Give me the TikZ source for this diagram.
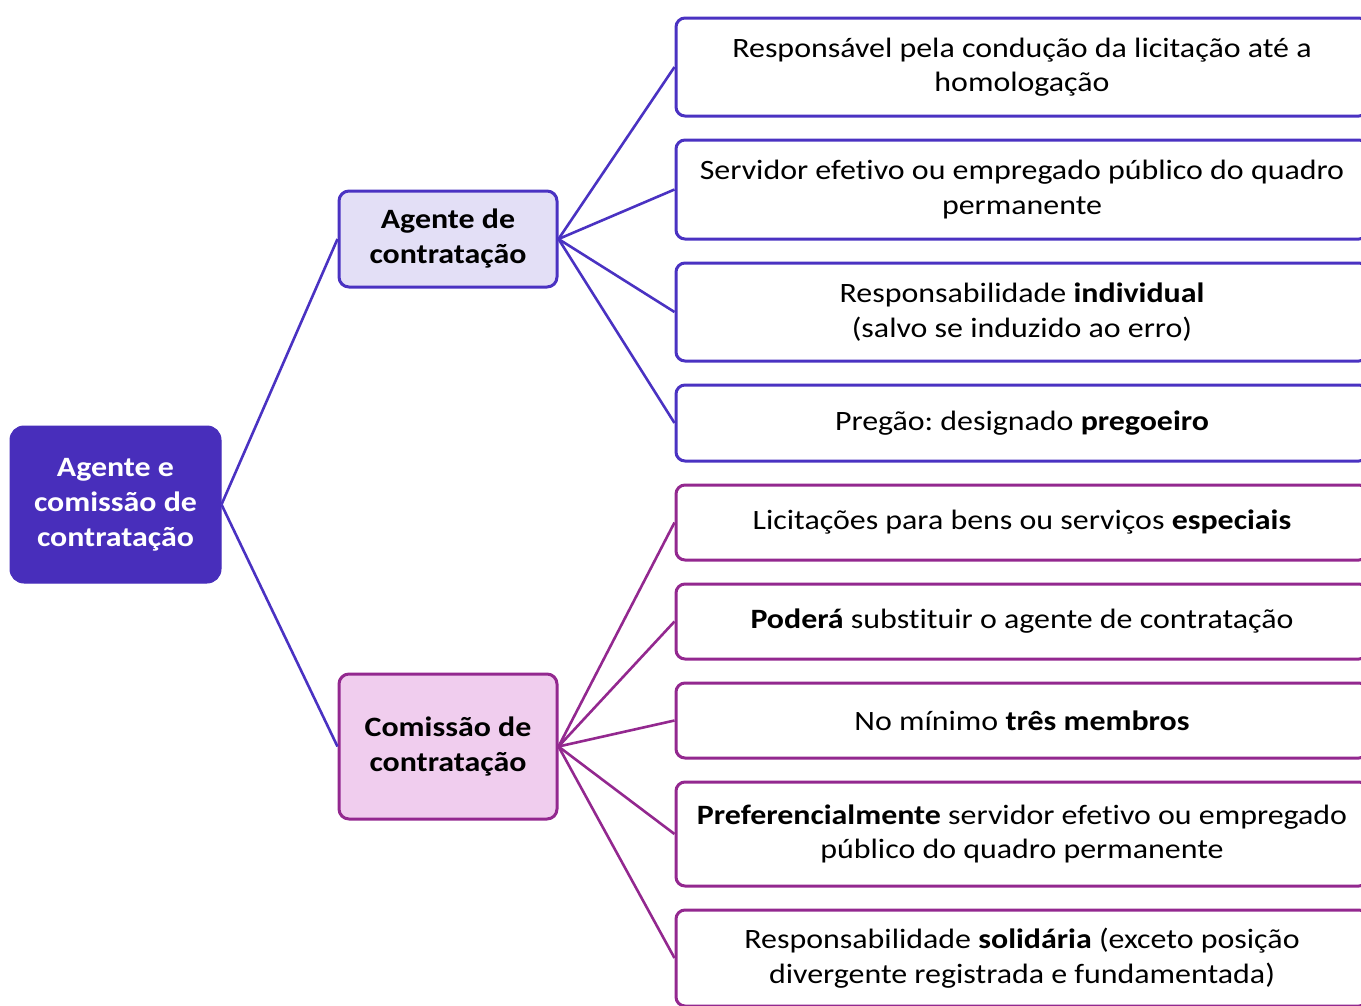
\documentclass[tikz,border=0pt]{standalone}
\usepackage{fontspec}
\setmainfont{Carlito}[FakeStretch=1.14, Ligatures={NoCommon}]
\definecolor{rootfill}{HTML}{482EBB}
\definecolor{blueline}{HTML}{4A32C2}
\definecolor{agentfill}{HTML}{E3DFF6}
\definecolor{purpline}{HTML}{93288F}
\definecolor{comfill}{HTML}{F0CDEE}
\tikzset{
  txt/.style={font=\fontsize{28}{34.5}\selectfont, align=center, inner sep=0pt},
  rootbox/.style={txt, rectangle, rounded corners=14pt, fill=rootfill, draw=rootfill, line width=1pt, text=white, font=\fontsize{28}{35}\selectfont\bfseries, minimum width=211pt, minimum height=157pt},
  agentbox/.style={txt, rectangle, rounded corners=10pt, fill=agentfill, draw=blueline, line width=3pt, font=\fontsize{28}{35}\selectfont\bfseries, minimum width=218pt},
  combox/.style={txt, rectangle, rounded corners=10pt, fill=comfill, draw=purpline, line width=3pt, font=\fontsize{28}{35}\selectfont\bfseries, minimum width=218pt},
  bluebox/.style={txt, rectangle, rounded corners=9pt, fill=white, draw=blueline, line width=3pt, minimum width=692pt},
  purpbox/.style={txt, rectangle, rounded corners=9pt, fill=white, draw=purpline, line width=3pt, minimum width=692pt},
  blueedge/.style={draw=blueline, line width=2.6pt},
  purpedge/.style={draw=purpline, line width=2.6pt}
}
\begin{document}
\frenchspacing
\begin{tikzpicture}[x=1pt,y=-1pt]
\useasboundingbox (0,0) rectangle (1361,1005);
\clip (0,0) rectangle (1361,1005);
\node[rootbox] (root) at (115.5,504.5) {Agente e\\comissão de\\contratação};
\node[agentbox, minimum height=96pt] (agent) at (448,239) {Agente de\\contratação};
\node[combox, minimum height=145pt] (com) at (448,746.5) {Comissão de\\contratação};

\node[bluebox, minimum height=98pt] (b1) at (1022,67) {Responsável pela condução da licitação até a\\homologação};
\node[bluebox, minimum height=99pt] (b2) at (1022,189.5) {Servidor efetivo ou empregado público do quadro\\permanente};
\node[bluebox, minimum height=98pt] (b3) at (1022,312) {Responsabilidade \textbf{individual}\\(salvo se induzido ao erro)};
\node[bluebox, minimum height=76pt] (b4) at (1022,423) {Pregão: designado \textbf{pregoeiro}};

\node[purpbox, minimum height=75pt] (p1) at (1022,522.5) {Licitações para bens ou serviços \textbf{especiais}};
\node[purpbox, minimum height=75pt] (p2) at (1022,621.5) {\textbf{Poderá} substituir o agente de contratação};
\node[purpbox, minimum height=75pt] (p3) at (1022,720.5) {No mínimo \textbf{três membros}};
\node[purpbox, minimum height=104pt] (p4) at (1022,834) {\textbf{Preferencialmente} servidor efetivo ou empregado\\público do quadro permanente};
\node[purpbox, minimum height=96pt] (p5) at (1022,958) {};
\node[txt] (p5t) at (1022,958) {Responsabilidade \textbf{solidária} (exceto posição\\divergente registrada e fundamentada)};

\draw[blueedge] (root.east) -- (agent.west);
\draw[blueedge] (root.east) -- (com.west);
\foreach \b in {b1,b2,b3,b4} \draw[blueedge] (agent.east) -- (\b.west);
\foreach \p in {p1,p2,p3,p4,p5} \draw[purpedge] (com.east) -- (\p.west);
\end{tikzpicture}
\end{document}
